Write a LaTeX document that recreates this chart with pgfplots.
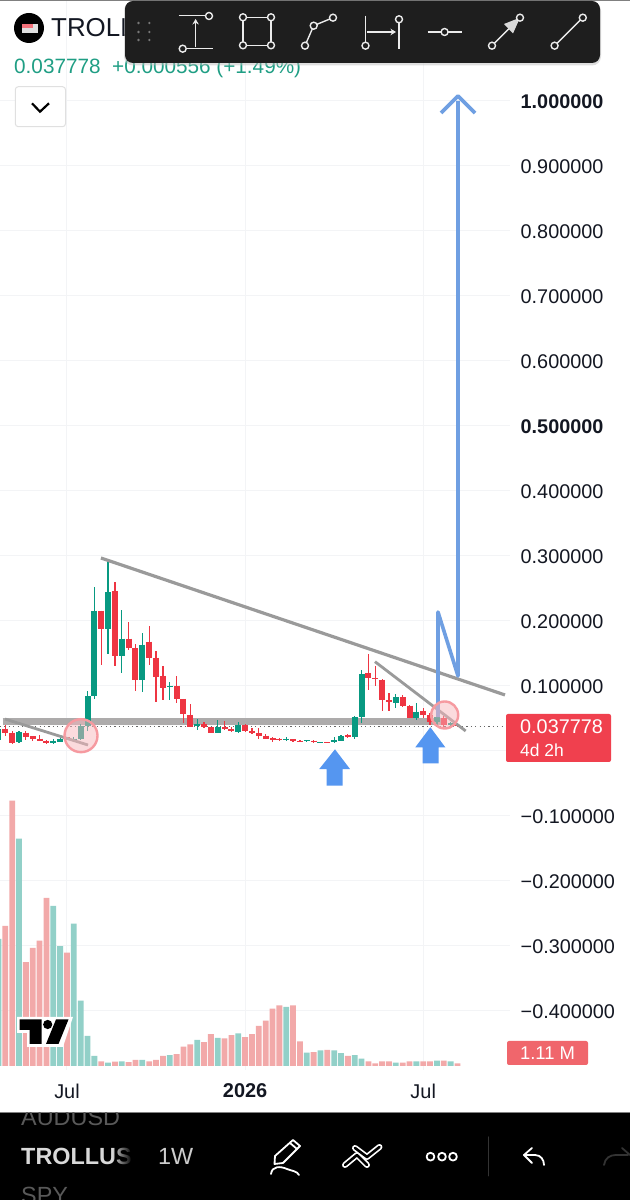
\documentclass[border=0pt]{standalone}
\usepackage{pgfplots}
\usepackage{pgfplotstable}
\usepackage{fontspec}
\setmainfont{Liberation Sans}
\pgfplotsset{compat=1.18}
\usetikzlibrary{fadings,arrows.meta}
\definecolor{upc}{HTML}{089981}
\definecolor{dnc}{HTML}{EE3542}
\definecolor{upv}{HTML}{92D0C8}
\definecolor{dnv}{HTML}{F2A9A9}
\definecolor{gridc}{HTML}{F3F4F6}
\definecolor{txt}{HTML}{131722}
\definecolor{trend}{HTML}{9A9A9A}
\definecolor{band}{HTML}{ADABAB}
\definecolor{nline}{HTML}{6F9FE2}
\definecolor{barrow}{HTML}{5596F0}
\definecolor{tool}{HTML}{1E1E1E}
\definecolor{tagr}{HTML}{F0404E}
\definecolor{tagv}{HTML}{F0666C}
\definecolor{pricec}{HTML}{1F9E84}
\newcommand\fs[1]{\fontsize{#1}{#1}\selectfont}

% weekly candles: k = weeks from the July 2025 grid line; prices in USD
\pgfplotstableread{
k hi top bot lo
-10 .0349 .0338 .0169 .0159
-7 .0303 .0287 .0133 .0128
-2 .0185 .0149 .0118 .0113
-1 .0246 .0185 .0144 .0138
1 .0210 .0190 .0154 .0138
2 .0415 .0390 .0185 .0174
3 .0928 .0846 .0385 .0313
4 .2518 .2159 .0846 .0800
6 .2928 .2446 .1877 .1487
8 .2169 .1728 .1467 .1205
11 .1810 .1636 .1092 .0913
15 .1067 .1005 .0985 .0785
19 .0487 .0410 .0385 .0323
22 .0472 .0369 .0282 .0277
25 .0451 .0400 .0297 .0272
32 .0210 .0190 .0174 .0154
35 .0169 .0164 .0154 .0144
37 .0144 .0138 .0133 .0128
39 .0210 .0164 .0133 .0123
40 .0241 .0226 .0159 .0149
42 .0538 .0518 .0215 .0185
43 .1246 .1185 .0523 .0426
48 .0877 .0826 .0744 .0662
51 .0744 .0605 .0513 .0477
54 .0579 .0528 .0446 .0374
56 .0451 .0426 .0395 .0374
}\upt
\pgfplotstableread{
k hi top bot lo
-9 .0400 .0344 .0272 .0236
-8 .0313 .0282 .0128 .0113
-6 .0303 .0282 .0221 .0169
-5 .0236 .0226 .0185 .0159
-4 .0241 .0190 .0154 .0149
-3 .0169 .0159 .0118 .0113
0 .0221 .0210 .0169 .0164
5 .2159 .2159 .1877 .1323
7 .2595 .2456 .1467 .1303
9 .1990 .1728 .1579 .1554
10 .1641 .1579 .1092 .0928
12 .1928 .1682 .1431 .1328
13 .1538 .1436 .1144 .0749
14 .1313 .1154 .0964 .0779
16 .1154 .1005 .0795 .0744
17 .0800 .0800 .0574 .0426
18 .0718 .0554 .0374 .0364
20 .0451 .0415 .0364 .0354
21 .0374 .0369 .0277 .0272
23 .0462 .0369 .0333 .0323
24 .0374 .0344 .0303 .0292
26 .0415 .0400 .0308 .0297
27 .0349 .0313 .0277 .0267
28 .0354 .0277 .0226 .0185
29 .0262 .0236 .0190 .0179
30 .0221 .0195 .0174 .0144
31 .0200 .0190 .0164 .0154
33 .0190 .0179 .0149 .0133
34 .0174 .0159 .0149 .0133
36 .0169 .0159 .0133 .0123
38 .0144 .0138 .0133 .0128
41 .0267 .0246 .0215 .0200
44 .1492 .1200 .1118 .0938
45 .1308 .1118 .1108 .1005
46 .1103 .1097 .0779 .0621
47 .0897 .0785 .0754 .0615
49 .0856 .0826 .0687 .0672
50 .0703 .0697 .0513 .0508
52 .0662 .0615 .0554 .0503
53 .0579 .0554 .0451 .0400
55 .0544 .0513 .0395 .0364
57 .0415 .0405 .0390 .0374
}\dnt
% weekly volume in millions
\pgfplotstableread{
k v
-10 52.1
-7 93.2
-2 65.6
-1 49.1
1 58.4
2 26.8
3 12.4
4 4.1
6 1.4
8 1.9
11 2.5
15 4.5
19 10.7
22 11.5
25 13.4
32 24.2
35 5.5
37 6.4
39 6.4
40 5.3
42 4.5
43 3.0
48 1.4
51 1.9
54 2.2
56 1.9
}\upv
\pgfplotstableread{
k v
-9 57.4
-8 108.8
-6 42.6
-5 48.4
-4 51.4
-3 68.9
0 46.5
5 1.9
7 1.8
9 1.6
10 2.5
12 1.9
13 2.5
14 4.1
16 4.9
17 7.9
18 8.9
20 9.8
21 13.1
23 11.3
24 12.7
26 11.8
27 13.1
28 16.4
29 18.6
30 23.5
31 24.9
33 24.9
34 10.1
36 5.7
38 6.6
41 4.1
44 1.9
45 1.11
46 1.9
47 1.9
49 1.4
50 1.9
52 1.9
53 1.9
55 2.2
57 1.11
}\dnv

\begin{document}
\begin{tikzpicture}
\useasboundingbox (0,0) rectangle (630bp,1200bp);
\fill[white] (0,0) rectangle (630bp,1200bp);
\begin{axis}[
  at={(0,130bp)}, anchor=south west,
  scale only axis, width=510bp, height=1070bp,
  xmin=-9.78, xmax=64.67,
  ymin=-0.49077, ymax=1.15538,
  clip mode=individual,
  axis line style={draw=none},
  tick style={draw=none},
  major tick length=0pt,
  grid=major, grid style={gridc, line width=1bp},
  xtick={0,26,52}, xticklabels={Jul,\textbf{2026},Jul},
  xticklabel style={font=\fs{20}, text=txt, inner sep=0pt, anchor=center, yshift=-21bp},
  ytick={-0.4,-0.3,-0.2,-0.1,0,0.1,0.2,0.3,0.4,0.5,0.6,0.7,0.8,0.9,1.0},
  yticklabels={−0.400000,−0.300000,−0.200000,−0.100000,{},0.100000,0.200000,0.300000,0.400000,\textbf{0.500000},0.600000,0.700000,0.800000,0.900000,\textbf{1.000000}},
  yticklabel pos=right,
  yticklabel style={font=\fs{19.9}, text=txt, inner sep=0pt, anchor=west, xshift=10.5bp, yshift=-0.7bp},
]
% support band and current price
\addplot[band, line width=7bp, forget plot] coordinates {(-9.4,.0447)(55.5,.0447)};
\addplot[black!60, line width=1bp, dash pattern=on 1.2bp off 3.2bp, forget plot] coordinates {(-9.78,.0378)(64.67,.0378)};
% candles: wicks then bodies
\addplot[draw=none, forget plot, error bars/.cd, y dir=both, y explicit, error mark=none, error bar style={draw=upc, line width=1.2bp}]
  table[x=k, y=top, y error plus expr=\thisrow{hi}-\thisrow{top}, y error minus expr=\thisrow{top}-\thisrow{lo}] {\upt};
\addplot[draw=none, forget plot, error bars/.cd, y dir=both, y explicit, error mark=none, error bar style={draw=upc, line width=6bp}]
  table[x=k, y=top, y error plus expr=0, y error minus expr=\thisrow{top}-\thisrow{bot}] {\upt};
\addplot[draw=none, forget plot, error bars/.cd, y dir=both, y explicit, error mark=none, error bar style={draw=dnc, line width=1.2bp}]
  table[x=k, y=top, y error plus expr=\thisrow{hi}-\thisrow{top}, y error minus expr=\thisrow{top}-\thisrow{lo}] {\dnt};
\addplot[draw=none, forget plot, error bars/.cd, y dir=both, y explicit, error mark=none, error bar style={draw=dnc, line width=6bp}]
  table[x=k, y=top, y error plus expr=0, y error minus expr=\thisrow{top}-\thisrow{bot}] {\dnt};
% trend lines
\addplot[trend, line width=3.2bp, forget plot] coordinates {(4.96,.2969)(63.94,.0862)};
\addplot[trend, line width=2.8bp, forget plot] coordinates {(44.96,.1374)(58.2,.0308)};
\addplot[trend, line width=2.8bp, forget plot] coordinates {(-9.05,.0492)(3.07,.0092)};
% projected path
\addplot[nline, line width=3.6bp, line join=round, forget plot] coordinates {(54.16,.052)(54.16,.2138)(57.08,.1154)(57.08,1.0)};
\addplot[nline, line width=3.6bp, line join=round, forget plot] coordinates {(54.6,.9815)(57.08,1.0077)(59.56,.9815)};
% blue arrows
\addplot[fill=barrow, draw=none, forget plot] coordinates {(39.12,.0026)(41.31,-.0277)(40.25,-.0277)(40.25,-.0534)(37.91,-.0534)(37.91,-.0277)(36.83,-.0277)} -- cycle;
\addplot[fill=barrow, draw=none, forget plot] coordinates {(53.04,.0365)(55.23,.0057)(54.26,.0057)(54.26,-.0189)(51.93,-.0189)(51.93,.0057)(50.85,.0057)} -- cycle;
\end{axis}
\begin{axis}[
  at={(0,130bp)}, anchor=south west,
  scale only axis, width=510bp, height=1070bp,
  xmin=-9.78, xmax=64.67,
  ymin=-1.64, ymax=437.06,
  hide axis,
]
\addplot[ybar, bar width=5.8bp, bar shift=0pt, fill=upv, draw=none, forget plot] table[x=k,y=v] {\upv};
\addplot[ybar, bar width=5.8bp, bar shift=0pt, fill=dnv, draw=none, forget plot] table[x=k,y=v] {\dnv};
\end{axis}

\begin{scope}[x=1bp,y=-1bp,yshift=1200bp]
% circles
\draw[draw=dnc!50, fill=dnc!35, fill opacity=.5, line width=2.4bp] (81,735.7) circle[radius=16.5];
\draw[draw=dnc!50, fill=dnc!35, fill opacity=.5, line width=2.4bp] (444.7,715) circle[radius=13.5];

% TradingView mark
\fill[white] (17,1017)--(73,1017)--(63,1047)--(27,1047)--(27,1033)--(17,1033)--cycle;
\fill[black] (19.5,1019.5)--(41.5,1019.5)--(41.5,1044)--(29.5,1044)--(29.5,1030)--(19.5,1030)--cycle;
\fill[black] (47.7,1024.5) circle[radius=4.6];
\fill[black] (56,1019.5)--(68.5,1019.5)--(58.5,1044)--(46,1044)--cycle;

% last price tags
\fill[tagr, rounded corners=2] (506,714) rectangle (611,762);
\node[white, font=\fs{19.9}, anchor=west, inner sep=0pt] at (520,726.5) {0.037778};
\node[white, font=\fs{17.5}, anchor=west, inner sep=0pt] at (520,750) {4d 2h};
\fill[tagv, rounded corners=2] (507,1041) rectangle (588,1065);
\node[white, font=\fs{18.5}, anchor=center, inner sep=0pt] at (547.5,1053) {1.11 M};

% header
\fill[gray] (0,0) rectangle (630,1);
\fill[black] (29,28) circle[radius=15];
\fill[white!75!gray] (22,24) rectangle (38,33);
\fill[dnc!70] (22,24) rectangle (33,28);
\node[txt, font=\fs{26}, anchor=base west, inner sep=0pt] at (51,36.5) {TROLLUSD};
\node[pricec, font=\fs{20.8}, anchor=base west, inner sep=0pt] at (14,73.5) {0.037778};
\node[pricec, font=\fs{20.8}, anchor=base west, inner sep=0pt] at (112,73.5) {+0.000556 (+1.49\%)};
\draw[black!12, fill=white, line width=1bp, rounded corners=3] (15.3,86.7) rectangle (65.5,126.7);
\draw[black, line width=2.2bp] (32,103.3)--(40,111.7)--(49,103.3);

% toolbar
\fill[black!25, opacity=.5, rounded corners=9] (124,2) rectangle (601,65.5);
\fill[tool, rounded corners=8] (125,1) rectangle (600,63);
\foreach \x in {138.5,149.4} \foreach \y in {23,32,40} \fill[white!40!tool] (\x,\y) circle[radius=1.3];
\begin{scope}[draw=white!92!black, line width=1.4bp]
  \tikzset{hnd/.style={draw=white!92!black, fill=tool, line width=1.4bp}}
  \draw (178.7,15.7)--(205,15.7); \draw[hnd] (209,16) circle[radius=3.5];
  \draw (186,48.7)--(213,48.7); \draw[hnd] (182.7,48.7) circle[radius=3.5];
  \draw[-{Stealth[length=5.5bp,width=6.5bp]}] (195.6,47.5)--(195.6,19);
  \draw (243,17.3) rectangle (271,45.3);
  \foreach \p in {(243,17.3),(271,17.3),(243,45.3),(271,45.3)} \draw[hnd] \p circle[radius=3.5];
  \draw (305,45.7)--(313.7,25.7)--(333,17.7);
  \draw[hnd] (305,45.7) circle[radius=3.5]; \draw[hnd] (313.7,25.7) circle[radius=3.5]; \draw[hnd] (333,17.7) circle[radius=3.5];
  \draw (365.5,15.7)--(365.5,45); \draw[hnd] (365.5,45.7) circle[radius=3.5];
  \draw (399,19)--(399,49); \draw[hnd] (399,19.3) circle[radius=3.5];
  \draw[-{Stealth[length=5.5bp,width=6.5bp]}] (367,32)--(396,32);
  \draw (427.7,32)--(462,32); \draw[hnd] (444.6,32) circle[radius=3.5];
  \draw (492,45.7)--(520,17.7);
  \fill[white!85!black] (520,17.7)--(504,24)--(513,33.5)--cycle;
  \draw[hnd] (492,45.7) circle[radius=3.5]; \draw[hnd] (520,17.7) circle[radius=3.5];
  \draw (554.6,45.7)--(582.8,17.7);
  \draw[hnd] (554.6,45.7) circle[radius=3.5]; \draw[hnd] (582.8,17.7) circle[radius=3.5];
\end{scope}

% bottom bar
\fill[black] (0,1113) rectangle (630,1200);
\fill[gray] (0,1112) rectangle (630,1113);
\begin{scope}
  \clip (0,1113) rectangle (630,1200);
  \node[white!35!black, font=\fs{23.5}, anchor=base west, inner sep=0pt] at (21,1126) {AUDUSD};
  \node[white!35!black, font=\fs{23.5}, anchor=base west, inner sep=0pt] at (21,1204) {SPY};
\end{scope}
\begin{scope}
  \clip (0,1130) rectangle (131,1185);
  \node[white!85!black, font=\fs{23.5}, anchor=base west, inner sep=0pt] at (21,1165) {\textbf{TROLLUSD}};
\end{scope}
\fill[black, path fading=west] (112,1135) rectangle (132,1180);
\node[white!80!black, font=\fs{23.5}, anchor=base west, inner sep=0pt] at (158,1165) {1W};
\begin{scope}[draw=white, line width=1.8bp, line cap=round, line join=round]
  \draw (274.5,1164)--(275,1156)--(293,1140)--(300,1146)--(283,1163)--cycle;
  \draw (290,1143)--(297,1149);
  \draw (271,1174) .. controls (272,1166) and (280,1166) .. (287,1169) .. controls (292,1171) and (297,1171) .. (299,1175);
  \draw[line width=6bp] (345,1165)--(357,1155)--(367,1165);
  \draw[black, line width=2.6bp] (345,1165)--(357,1155)--(367,1165);
  \draw[line width=6bp] (355,1148)--(367,1157)--(379.5,1147);
  \draw[black, line width=2.6bp] (355,1148)--(367,1157)--(379.5,1147);
  \foreach \x in {430.5,442,453} \draw (\x,1156.7) circle[radius=3.9];
  \draw[line width=1bp, white!20!black] (488,1137)--(488,1176);
  \draw (524,1155)--(532,1148); \draw (524,1155)--(532,1163);
  \draw (524,1155)--(535,1155) .. controls (541,1155) and (544,1160) .. (544,1165);
  \draw[white!20!black] (604,1165) .. controls (605,1158) and (610,1155) .. (616,1155)--(628,1155);
  \draw[white!20!black] (622,1148)--(630,1155);
\end{scope}
\end{scope}
\end{tikzpicture}
\end{document}
